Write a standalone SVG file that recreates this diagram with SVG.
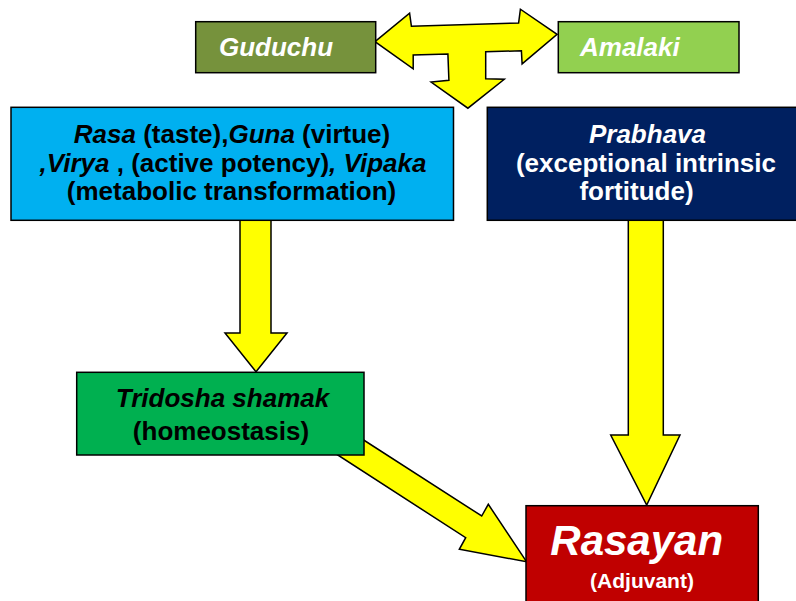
<svg xmlns="http://www.w3.org/2000/svg" width="796" height="601" viewBox="0 0 796 601">
<style>
.box{stroke:#000;stroke-width:1.5}
.arrow{fill:#FFFF00;stroke:#000;stroke-width:1.5;stroke-linejoin:miter}
text{font-family:"Liberation Sans",Arial,sans-serif;font-weight:bold}
.w{fill:#fff}
.k{fill:#000}
.i{font-style:italic}
.t26{font-size:26px}
</style>
<rect width="796" height="601" fill="#fff"/>
<g id="connectors">
<polygon class="arrow" points="375,41.6 409.6,13.1 411.4,26.2 518.6,23 520.4,9.2 557.1,34.4 522.1,63.9 521.4,50.8 485.7,51.8 485.7,78.7 504.3,79.3 467.9,108.2 431.1,82 448.9,80.3 447.9,54.1 413.2,55.1 413.2,68.9"/>
<polygon class="arrow" points="240,215 271,215 271,333 287,333 256,371.7 225,333 240,333"/>
<polygon class="arrow" points="628.3,215 663.3,215 663.3,435 680,435 646.7,505 610.7,435 628.3,435"/>
<polygon class="arrow" points="345,428 481.7,516 488.3,504.3 526.5,561.7 459.3,549.3 465.7,537.7 330,450"/>
</g>
<g id="guduchu">
<rect class="box" x="195.7" y="21.7" width="180" height="51" fill="#76923C"/>
<text class="w i t26" x="219" y="56">Guduchu</text>
</g>
<g id="amalaki">
<rect class="box" x="558.3" y="21.7" width="180.7" height="51" fill="#92D050"/>
<text class="w i t26" x="580" y="56">Amalaki</text>
</g>
<g id="properties">
<rect class="box" x="11" y="107.3" width="442.5" height="113" fill="#00B0F0"/>
<text class="k t26" x="232" y="143" text-anchor="middle"><tspan class="i">Rasa</tspan> (taste),<tspan class="i">Guna</tspan> (virtue)</text>
<text class="k t26" x="233" y="172" text-anchor="middle"><tspan class="i">,Virya</tspan> , (active potency)<tspan class="i">, Vipaka</tspan></text>
<text class="k t26" x="231.5" y="200" text-anchor="middle">(metabolic transformation)</text>
</g>
<g id="prabhava">
<rect class="box" x="487.3" y="107.3" width="320" height="113" fill="#002060"/>
<text class="w i t26" x="647.5" y="143" text-anchor="middle">Prabhava</text>
<text class="w t26" x="646" y="172" text-anchor="middle">(exceptional intrinsic</text>
<text class="w t26" x="636.5" y="200" text-anchor="middle">fortitude)</text>
</g>
<g id="tridosha">
<rect class="box" x="76.7" y="372.3" width="287.3" height="82.7" fill="#00B050"/>
<text class="k i t26" x="222.5" y="407" text-anchor="middle">Tridosha shamak</text>
<text class="k t26" x="221" y="440" text-anchor="middle">(homeostasis)</text>
</g>
<g id="rasayan">
<rect class="box" x="526" y="505.7" width="232.3" height="110" fill="#C00000"/>
<text class="w i" x="636.7" y="554.5" text-anchor="middle" font-size="42">Rasayan</text>
<text class="w" x="642" y="587.5" text-anchor="middle" font-size="21">(Adjuvant)</text>
</g>
</svg>
